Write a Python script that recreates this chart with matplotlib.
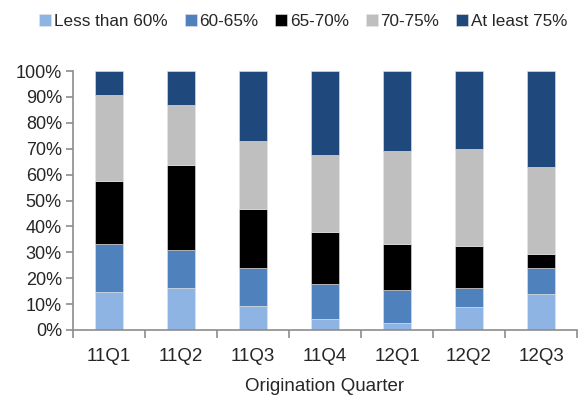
import matplotlib
matplotlib.use("Agg")
import matplotlib.pyplot as plt
import numpy as np
from matplotlib import font_manager

quarters = ["11Q1", "11Q2", "11Q3", "11Q4", "12Q1", "12Q2", "12Q3"]
buckets = ["Less than 60%", "60-65%", "65-70%", "70-75%", "At least 75%"]
less_than_60 = [14.8, 16.3, 9.4, 4.2, 2.7, 8.8, 14.0]
pct_60_65 = [18.4, 14.6, 14.5, 13.7, 12.9, 7.5, 9.9]
pct_65_70 = [24.3, 32.8, 22.8, 19.8, 17.6, 16.0, 5.4]
pct_70_75 = [33.1, 23.1, 26.3, 30.0, 36.0, 37.7, 33.7]
at_least_75 = [9.4, 13.2, 27.0, 32.3, 30.8, 30.0, 37.0]
y_ticks = [0, 10, 20, 30, 40, 50, 60, 70, 80, 90, 100]

colors = ["#8EB4E3", "#4F81BD", "#000000", "#BFBFBF", "#1F497D"]

available = {f.name for f in font_manager.fontManager.ttflist}
family = ["Liberation Sans Narrow"] if "Liberation Sans Narrow" in available else ["Liberation Sans", "DejaVu Sans"]
plt.rcParams["font.family"] = family
text_color = "#262626"

fig = plt.figure(figsize=(5.79, 3.96), dpi=100)
ax = fig.add_axes([73 / 579, 1 - 330 / 396, 504 / 579, 259 / 396])

x = np.arange(len(quarters))
series = [less_than_60, pct_60_65, pct_65_70, pct_70_75, at_least_75]
bottom = np.zeros(len(quarters))
for label, vals, c in zip(buckets, series, colors):
    vals = np.array(vals)
    ax.bar(x, vals, bottom=bottom, width=0.4, color=c, label=label,
           edgecolor="#e6e6e6", linewidth=0.4)
    bottom += vals

ax.set_xlim(-0.5, len(quarters) - 0.5)
ax.set_ylim(0, 100)
ax.set_yticks(y_ticks)
ax.set_yticklabels([f"{t}%" for t in y_ticks])
ax.set_xticks(x)
ax.set_xticklabels(quarters)
ax.set_xticks(np.arange(-0.5, len(quarters), 1.0), minor=True)
ax.tick_params(axis="x", which="major", length=0, pad=13, labelsize=13.5, labelcolor=text_color)
ax.tick_params(axis="x", which="minor", length=6, width=1.2, color="#8c8c8c", direction="out")
ax.tick_params(axis="y", length=5, width=1.2, color="#8c8c8c", labelsize=13, labelcolor=text_color, pad=3)

for s in ["top", "right"]:
    ax.spines[s].set_visible(False)
for s in ["left", "bottom"]:
    ax.spines[s].set_color("#8c8c8c")
    ax.spines[s].set_linewidth(1.2)

ax.set_xlabel("Origination Quarter", fontsize=13.5, color=text_color, labelpad=9)

fig.legend(loc="center", bbox_to_anchor=(0.524, 1 - 21 / 396), ncol=5, frameon=False,
           fontsize=12.3, handlelength=0.7, handleheight=0.7, handletextpad=0.15,
           columnspacing=1.0, labelcolor=text_color)

fig.savefig("out.png", dpi=100)
